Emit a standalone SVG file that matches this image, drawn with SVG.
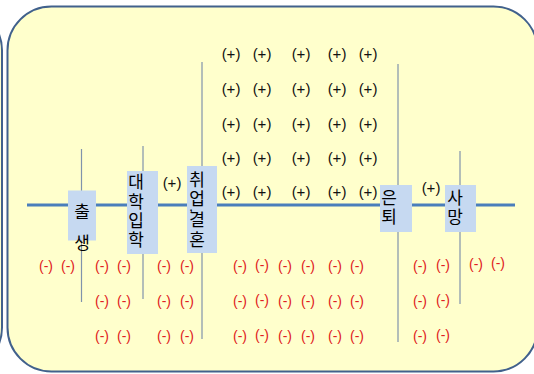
<svg xmlns="http://www.w3.org/2000/svg" width="534" height="374" viewBox="0 0 534 374">
<style>
.frame{fill:#FFFFCC;stroke:#41618C;stroke-width:2}
.tl{stroke:#4A7EBB;stroke-width:3;fill:none}
.vl{stroke:#8093AC;stroke-width:1.2;fill:none}
.box{fill:#C6D9F1}
.lbl{font-family:"Noto Sans CJK KR","Noto Sans",sans-serif;font-size:17px;fill:#000;writing-mode:vertical-rl;text-orientation:upright}
.cm{font-family:"Liberation Sans",Arial,sans-serif;font-size:15px;fill:#000;text-anchor:middle}
.p{font-family:"Liberation Sans",Arial,sans-serif;font-size:15px;fill:#111;text-anchor:middle}
.m{font-family:"Liberation Sans",Arial,sans-serif;font-size:14px;fill:#E02020;text-anchor:middle}
</style>
<rect x="-400" y="6.5" width="402" height="365" rx="44" class="frame"/>
<rect x="7.5" y="6.5" width="530" height="365" rx="44" class="frame"/>
<g id="connectors">
<line x1="27" y1="205" x2="515" y2="205" class="tl"/>
<line x1="81.5" y1="149" x2="81.5" y2="302" class="vl"/>
<line x1="143" y1="146" x2="143" y2="299" class="vl"/>
<line x1="202" y1="62" x2="202" y2="339" class="vl"/>
<line x1="398" y1="64" x2="398" y2="342" class="vl"/>
<line x1="460" y1="151" x2="460" y2="304" class="vl"/>
</g>
<g id="n-birth">
<rect x="68" y="190.5" width="28" height="50" class="box"/>
<text class="lbl" x="82" y="203.5" letter-spacing="14">출생</text>
</g>
<g id="n-univ">
<rect x="127" y="171" width="31" height="83" class="box"/>
<text class="lbl" x="136" y="173.5" letter-spacing="2.3">대학입학</text>
</g>
<g id="n-job">
<rect x="187" y="166" width="30" height="87" class="box"/>
<text class="lbl" x="197" y="171.5" letter-spacing="2">취업</text>
<text class="cm" x="191" y="211">,</text>
<text class="lbl" x="197" y="211.5" letter-spacing="3">결혼</text>
</g>
<g id="n-retire">
<rect x="380" y="185" width="32" height="47" class="box"/>
<text class="lbl" x="389" y="189.5" letter-spacing="2">은퇴</text>
</g>
<g id="n-death">
<rect x="445" y="185" width="31" height="47" class="box"/>
<text class="lbl" x="455" y="189.5" letter-spacing="2">사망</text>
</g>
<g id="plus">
<text class="p" x="172" y="188">(+)</text>
<text class="p" x="431" y="193">(+)</text>
<text class="p" x="231" y="59">(+)</text><text class="p" x="262" y="59">(+)</text><text class="p" x="301" y="59">(+)</text><text class="p" x="337" y="59">(+)</text><text class="p" x="368" y="59">(+)</text>
<text class="p" x="231" y="94">(+)</text><text class="p" x="262" y="94">(+)</text><text class="p" x="301" y="94">(+)</text><text class="p" x="337" y="94">(+)</text><text class="p" x="368" y="94">(+)</text>
<text class="p" x="231" y="129">(+)</text><text class="p" x="262" y="129">(+)</text><text class="p" x="301" y="129">(+)</text><text class="p" x="337" y="129">(+)</text><text class="p" x="368" y="129">(+)</text>
<text class="p" x="231" y="163">(+)</text><text class="p" x="262" y="163">(+)</text><text class="p" x="301" y="163">(+)</text><text class="p" x="337" y="163">(+)</text><text class="p" x="368" y="163">(+)</text>
<text class="p" x="231" y="197">(+)</text><text class="p" x="262" y="197">(+)</text><text class="p" x="301" y="197">(+)</text><text class="p" x="337" y="197">(+)</text><text class="p" x="368" y="197">(+)</text>
</g>
<g id="minus">
<text class="m" x="46" y="271">(-)</text><text class="m" x="68" y="271">(-)</text>
<text class="m" x="102" y="271">(-)</text><text class="m" x="124" y="271">(-)</text>
<text class="m" x="164" y="271">(-)</text><text class="m" x="187" y="271">(-)</text>
<text class="m" x="240" y="271">(-)</text><text class="m" x="262" y="270">(-)</text>
<text class="m" x="285" y="271">(-)</text><text class="m" x="308" y="271">(-)</text>
<text class="m" x="335" y="271">(-)</text><text class="m" x="357" y="271">(-)</text>
<text class="m" x="420" y="271">(-)</text><text class="m" x="443" y="270">(-)</text>
<text class="m" x="476" y="269">(-)</text><text class="m" x="498" y="268">(-)</text>
<text class="m" x="102" y="306">(-)</text><text class="m" x="124" y="306">(-)</text>
<text class="m" x="164" y="306">(-)</text><text class="m" x="187" y="306">(-)</text>
<text class="m" x="240" y="306">(-)</text><text class="m" x="262" y="305">(-)</text>
<text class="m" x="285" y="306">(-)</text><text class="m" x="308" y="306">(-)</text>
<text class="m" x="335" y="306">(-)</text><text class="m" x="357" y="306">(-)</text>
<text class="m" x="420" y="306">(-)</text><text class="m" x="443" y="305">(-)</text>
<text class="m" x="102" y="341">(-)</text><text class="m" x="124" y="341">(-)</text>
<text class="m" x="164" y="341">(-)</text><text class="m" x="187" y="341">(-)</text>
<text class="m" x="240" y="341">(-)</text><text class="m" x="262" y="340">(-)</text>
<text class="m" x="285" y="341">(-)</text><text class="m" x="308" y="341">(-)</text>
<text class="m" x="335" y="341">(-)</text><text class="m" x="357" y="341">(-)</text>
<text class="m" x="420" y="341">(-)</text><text class="m" x="443" y="340">(-)</text>
</g>
</svg>
